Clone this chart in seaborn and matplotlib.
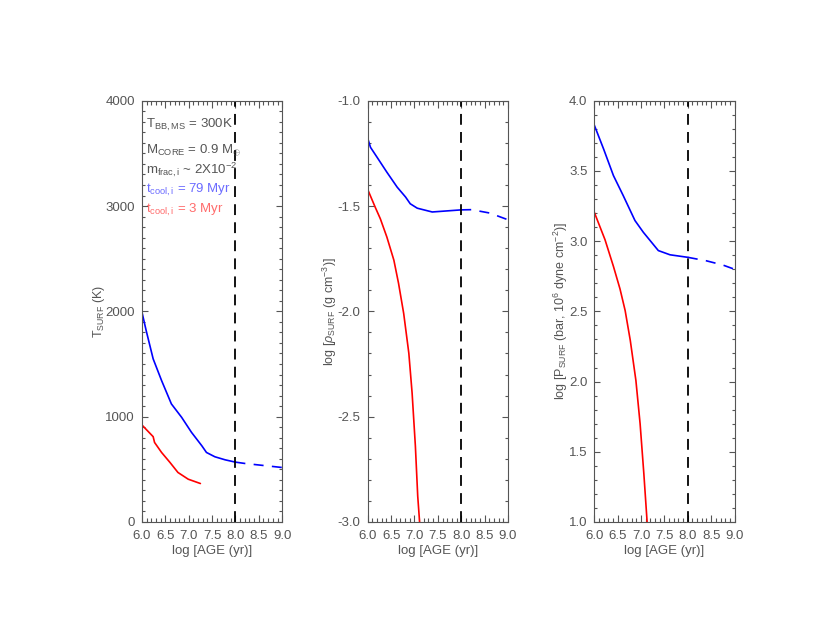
import numpy as np
import pandas as pd
import matplotlib
matplotlib.use('Agg')
import matplotlib.pyplot as plt
import seaborn as sns
from matplotlib.ticker import MultipleLocator, FormatStrFormatter

# log age (yr) and surface quantities
age_blue_t = [6.0, 6.09, 6.24, 6.42, 6.63, 6.85, 7.06, 7.28, 7.38, 7.56, 7.78, 8.0]
temp_blue = [1994, 1819, 1549, 1343, 1121, 993, 851, 724, 660, 619, 590, 568]
age_blue_t_ext = [8.0, 8.21, 9.0]
temp_blue_ext = [568, 555, 517]
age_red_t = [6.0, 6.24, 6.27, 6.42, 6.60, 6.77, 6.99, 7.25]
temp_red = [921, 810, 755, 660, 565, 470, 406, 365]

age_blue_r = [6.0, 6.06, 6.2, 6.41, 6.63, 6.81, 6.91, 7.06, 7.38, 8.0]
rho_blue = [-1.178, -1.221, -1.268, -1.339, -1.41, -1.457, -1.489, -1.51, -1.528, -1.518]
age_blue_r_ext = [8.0, 8.22, 8.61, 9.0]
rho_blue_ext = [-1.518, -1.517, -1.533, -1.565]
age_red_r = [6.0, 6.16, 6.27, 6.41, 6.56, 6.66, 6.77, 6.88, 6.95, 7.02, 7.07, 7.11]
rho_red = [-1.421, -1.505, -1.56, -1.647, -1.757, -1.867, -2.01, -2.199, -2.388, -2.64,
           -2.877, -3.0]

age_blue_p = [6.0, 6.2, 6.41, 6.62, 6.87, 7.05, 7.37, 7.62, 8.0]
pres_blue = [3.827, 3.656, 3.467, 3.324, 3.147, 3.063, 2.933, 2.903, 2.885]
age_blue_p_ext = [8.0, 8.4, 8.75, 9.0]
pres_blue_ext = [2.885, 2.86, 2.83, 2.80]
age_red_p = [6.0, 6.23, 6.41, 6.55, 6.66, 6.77, 6.89, 6.98, 7.06, 7.13]
pres_red = [3.206, 3.01, 2.82, 2.66, 2.506, 2.293, 2.008, 1.70, 1.344, 1.0]

age_cut = 8.0
notes = [r'T$_{\rm BB,MS}$ = 300K', r'M$_{\rm CORE}$ = 0.9 M$_{\oplus}$',
         r'm$_{\rm frac,i}$ ~ 2X10$^{-2}$', r't$_{\rm cool,i}$ = 79 Myr',
         r't$_{\rm cool,i}$ = 3 Myr']
note_colors = ['#555555', '#555555', '#555555', '#6b6bff', '#ff6b6b']

sns.set_style('ticks')
plt.rcParams['font.family'] = ['Liberation Sans', 'DejaVu Sans']
plt.rcParams['mathtext.fontset'] = 'custom'
plt.rcParams['mathtext.rm'] = 'Liberation Sans'
plt.rcParams['mathtext.it'] = 'Liberation Sans:italic'
plt.rcParams['mathtext.bf'] = 'Liberation Sans:bold'
grey = '#555555'
fs = 9.5

fig = plt.figure(figsize=(8.3, 6.42), dpi=100)
lefts = [0.171, 0.443, 0.716]
axes = [fig.add_axes([l, 0.187, 0.169, 0.656]) for l in lefts]

panels = [
    (age_blue_t, temp_blue, age_blue_t_ext, temp_blue_ext, age_red_t, temp_red),
    (age_blue_r, rho_blue, age_blue_r_ext, rho_blue_ext, age_red_r, rho_red),
    (age_blue_p, pres_blue, age_blue_p_ext, pres_blue_ext, age_red_p, pres_red),
]
ylims = [(0, 4000), (-3.0, -1.0), (1.0, 4.0)]
ymaj = [1000, 0.5, 0.5]
ymin = [100, 0.1, 0.1]
ylabels = [r'T$_{\rm SURF}$ (K)',
           r'log [$\rho_{\rm SURF}$ (g cm$^{-3}$)]',
           r'log [P$_{\rm SURF}$ (bar, 10$^{6}$ dyne cm$^{-2}$)]']

for i, ax in enumerate(axes):
    xb, yb, xe, ye, xr, yr = panels[i]
    sns.lineplot(x=xb, y=yb, ax=ax, color='#0000ff', lw=1.2, sort=False)
    sns.lineplot(x=xe, y=ye, ax=ax, color='#0000ff', lw=1.2, sort=False,
                 linestyle=(0, (6, 5)))
    sns.lineplot(x=xr, y=yr, ax=ax, color='#ff0000', lw=1.2, sort=False)
    ax.axvline(age_cut, color='black', lw=1.3, linestyle=(0, (6, 4)))
    ax.set_xlim(6.0, 9.0)
    ax.set_ylim(*ylims[i])
    ax.xaxis.set_major_locator(MultipleLocator(0.5))
    ax.xaxis.set_minor_locator(MultipleLocator(0.1))
    ax.yaxis.set_major_locator(MultipleLocator(ymaj[i]))
    ax.yaxis.set_minor_locator(MultipleLocator(ymin[i]))
    ax.tick_params(which='both', direction='in', top=True, right=True,
                   colors=grey, labelcolor=grey, labelsize=fs, width=0.8)
    ax.tick_params(axis='x', which='major', length=5, pad=6)
    ax.tick_params(axis='x', which='minor', length=2.8)
    ax.tick_params(axis='y', which='major', length=4, pad=5)
    ax.tick_params(axis='y', which='minor', length=2.2)
    if i > 0:
        ax.yaxis.set_major_formatter(FormatStrFormatter('%.1f'))
    ax.xaxis.set_major_formatter(FormatStrFormatter('%.1f'))
    for s in ax.spines.values():
        s.set_color(grey)
        s.set_linewidth(0.8)
    ax.set_xlabel('log [AGE (yr)]', color=grey, fontsize=fs, labelpad=2)
    ax.set_ylabel(ylabels[i], color=grey, fontsize=9, labelpad=-1)

ypos = [0.943, 0.883, 0.836, 0.788, 0.74]
for txt, c, y in zip(notes, note_colors, ypos):
    axes[0].text(0.03, y, txt, transform=axes[0].transAxes, color=c,
                 fontsize=fs, va='center', ha='left')

fig.savefig('out.png', dpi=100)
